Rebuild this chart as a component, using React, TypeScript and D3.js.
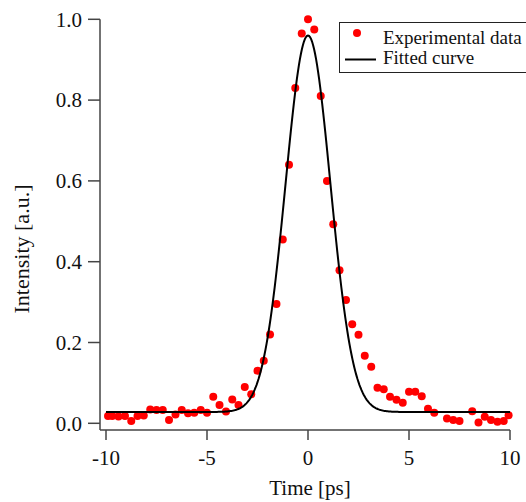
import React from "react";
import * as d3 from "d3";

// Experimental data (time in ps, normalised intensity)
const timePs = [
  -9.9, -9.69, -9.38, -9.06, -8.75, -8.44, -8.13, -7.81, -7.5, -7.19, -6.88, -6.56, -6.25, -5.94, -5.63, -5.31,
  -5, -4.69, -4.38, -4.06, -3.75, -3.44, -3.13, -2.81, -2.5, -2.19, -1.88, -1.56, -1.25, -0.94, -0.63, -0.31,
  0, 0.31, 0.63, 0.94, 1.25, 1.56, 1.88, 2.19, 2.5, 2.81, 3.13, 3.44, 3.75, 4.06, 4.38, 4.69,
  5, 5.31, 5.63, 5.94, 6.25, 6.88, 7.19, 7.5, 8.13, 8.44, 8.75, 9.06, 9.38, 9.69, 9.93,
];
const intensity = [
  0.018, 0.018, 0.017, 0.018, 0.006, 0.018, 0.019, 0.034, 0.033, 0.033, 0.008, 0.022, 0.033, 0.025, 0.026, 0.033,
  0.026, 0.066, 0.045, 0.029, 0.059, 0.045, 0.09, 0.072, 0.13, 0.155, 0.22, 0.295, 0.455, 0.64, 0.83, 0.965,
  1.0, 0.975, 0.81, 0.6, 0.493, 0.379, 0.305, 0.245, 0.219, 0.167, 0.14, 0.088, 0.084, 0.066, 0.058, 0.051,
  0.078, 0.078, 0.067, 0.036, 0.026, 0.012, 0.008, 0.006, 0.03, 0.002, 0.016, 0.008, 0.004, 0.006, 0.02,
];

// Gaussian fit parameters
const fitBaseline = 0.028;
const fitAmplitude = 0.932;
const fitCenter = 0;
const fitSigma = 1.11;

const xTicks = [-10, -5, 0, 5, 10];
const yTicks = [0, 0.2, 0.4, 0.6, 0.8, 1.0];
const legendLabels = ["Experimental data", "Fitted curve"];

const W = 526;
const H = 502;
const FONT = "'Liberation Serif', 'Times New Roman', serif";
const AXIS = "#444";
const TEXT = "#111";

export default function App() {
  const x = d3.scaleLinear().domain([-10, 10]).range([106, 510]);
  const y = d3.scaleLinear().domain([0, 1]).range([423.3, 19.3]);

  const fitT = d3.range(-10, 10.0001, 0.05);
  const fit = fitT.map((t) => [
    t,
    fitBaseline + fitAmplitude * Math.exp(-((t - fitCenter) ** 2) / (2 * fitSigma * fitSigma)),
  ]);
  const line = d3
    .line<number[]>()
    .x((d) => x(d[0]))
    .y((d) => y(d[1]));

  const axisY = 430;
  const axisX = 100;

  return (
    <svg
      width={W}
      height={H}
      style={{ position: "absolute", left: 0, top: 0, background: "#fff" }}
      fontFamily={FONT}
    >
      <rect x={0} y={0} width={W} height={H} fill="#fff" />
      {/* Axes */}
      <line x1={axisX} x2={axisX} y1={y(1)} y2={axisY} stroke={AXIS} strokeWidth={1.5} />
      <line x1={axisX} x2={x(10)} y1={axisY} y2={axisY} stroke={AXIS} strokeWidth={1.5} />
      {yTicks.map((t) => (
        <g key={"y" + t}>
          <line x1={axisX - 12} x2={axisX} y1={y(t)} y2={y(t)} stroke={AXIS} strokeWidth={1.5} />
          <text
            x={axisX - 18}
            y={y(t)}
            dy="0.35em"
            textAnchor="end"
            fontSize={21}
            fill={TEXT}
          >
            {t.toFixed(1)}
          </text>
        </g>
      ))}
      {xTicks.map((t) => (
        <g key={"x" + t}>
          <line x1={x(t)} x2={x(t)} y1={axisY} y2={axisY + 10} stroke={AXIS} strokeWidth={1.5} />
          <text x={x(t)} y={465} textAnchor="middle" fontSize={21} fill={TEXT}>
            {t}
          </text>
        </g>
      ))}
      <text x={310} y={495} textAnchor="middle" fontSize={21} fill={TEXT}>
        Time [ps]
      </text>
      <text
        transform={`translate(29,249) rotate(-90)`}
        textAnchor="middle"
        fontSize={22}
        fill={TEXT}
      >
        Intensity [a.u.]
      </text>

      {/* Data points */}
      {timePs.map((t, i) => (
        <circle key={i} cx={x(t)} cy={y(intensity[i])} r={4} fill="#ff0000" />
      ))}
      {/* Fitted curve */}
      <path d={line(fit) || ""} fill="none" stroke="#000" strokeWidth={2} />

      {/* Legend */}
      <rect x={339.5} y={22.5} width={220} height={50} fill="#fff" stroke="#222" strokeWidth={1} />
      <circle cx={357} cy={33} r={4} fill="#ff0000" />
      <line x1={345} x2={376} y1={59.5} y2={59.5} stroke="#000" strokeWidth={2} />
      <text x={383} y={43.5} fontSize={19} fill={TEXT}>
        {legendLabels[0]}
      </text>
      <text x={383} y={64} fontSize={19} fill={TEXT}>
        {legendLabels[1]}
      </text>
    </svg>
  );
}
